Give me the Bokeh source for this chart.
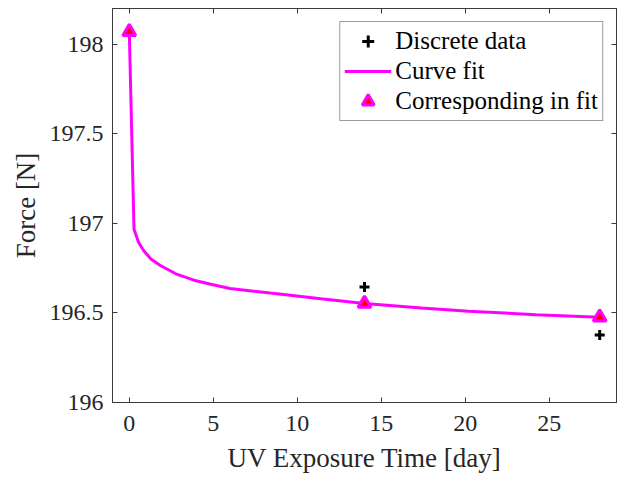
from bokeh.plotting import figure
from bokeh.models import Range1d, LinearAxis, FixedTicker, Legend, LegendItem
from bokeh.embed import file_html
from bokeh.resources import INLINE

# Discrete measurement data
data_days = [14, 28]
data_force = [196.645, 196.377]

# Curve fit
fit_days = [0, 0.28, 0.55, 0.85, 1.3, 1.85, 2.85, 3.85, 4.85, 6.0, 8.4, 11.4, 14.0, 17.4, 20.2, 24.2, 28.0]
fit_force = [198.07, 196.968, 196.895, 196.849, 196.80, 196.765, 196.715, 196.683, 196.660, 196.637,
             196.611, 196.579, 196.553, 196.527, 196.510, 196.490, 196.476]

# Corresponding points in fit
corr_days = [0, 14, 28]
corr_force = [198.07, 196.553, 196.476]

x_ticks = [0, 5, 10, 15, 20, 25]
y_ticks = [196, 196.5, 197, 197.5, 198]
y_tick_labels = ["196", "196.5", "197", "197.5", "198"]

FONT = "Liberation Serif"
TXT = "#262626"
AX = "#3a3a3a"

p = figure(frame_width=504, frame_height=394, output_backend="svg", toolbar_location=None,
           x_range=Range1d(-1, 29), y_range=Range1d(196, 198.2),
           min_border_left=112, min_border_top=8, min_border_right=4, min_border_bottom=75)
p.width = 620
p.height = 477
p.grid.visible = False
p.outline_line_color = AX
p.outline_line_width = 1
p.background_fill_color = "white"
p.border_fill_color = "white"

def style_axis(ax, labels=True):
    ax.axis_line_color = AX
    ax.major_tick_line_color = AX
    ax.major_tick_in = 5
    ax.major_tick_out = 0
    ax.minor_tick_line_color = None
    ax.major_label_text_font = FONT
    ax.major_label_text_color = TXT
    ax.major_label_text_font_size = "24px" if labels else "1px"
    ax.axis_label_text_font = FONT
    ax.axis_label_text_color = TXT
    ax.axis_label_text_font_style = "normal"
    ax.axis_label_text_font_size = "27px"

p.xaxis.ticker = FixedTicker(ticks=x_ticks)
p.yaxis.ticker = FixedTicker(ticks=y_ticks)
p.yaxis.major_label_overrides = dict(zip(y_ticks, y_tick_labels))
p.xaxis.axis_label = "UV Exposure Time [day]"
p.yaxis.axis_label = "Force [N]"
style_axis(p.xaxis[0])
style_axis(p.yaxis[0])
p.xaxis.major_label_standoff = 13
p.yaxis.major_label_standoff = 9
p.xaxis.axis_label_standoff = 9
p.yaxis.axis_label_standoff = 6

top = LinearAxis(ticker=FixedTicker(ticks=x_ticks),
                 major_label_overrides={t: "" for t in x_ticks})
right = LinearAxis(ticker=FixedTicker(ticks=y_ticks),
                   major_label_overrides={t: "" for t in y_ticks})
for a in (top, right):
    style_axis(a, labels=False)
    a.major_label_standoff = 0
p.add_layout(top, "above")
p.add_layout(right, "right")

r_data = p.scatter(data_days, data_force, marker="cross", size=10, line_width=3, line_color="black")
r_fit = p.line(fit_days, fit_force, line_width=3, line_color="#ff00ff")
r_corr = p.scatter(corr_days, corr_force, marker="triangle", size=13, line_width=3,
                   line_color="#ff00ff", fill_color="red")

legend = Legend(items=[LegendItem(label="Discrete data", renderers=[r_data]),
                       LegendItem(label="Curve fit", renderers=[r_fit]),
                       LegendItem(label="Corresponding in fit", renderers=[r_corr])],
                location="top_right")
legend.label_text_font = FONT
legend.label_text_color = "black"
legend.label_text_font_size = "25px"
legend.glyph_width = 47
legend.glyph_height = 30
legend.label_height = 30
legend.spacing = 0
legend.padding = 4
legend.label_standoff = 4
legend.margin = 13
legend.border_line_color = AX
legend.border_line_width = 1
legend.background_fill_alpha = 1
p.add_layout(legend)

open("out.html", "w").write(file_html(p, INLINE))
